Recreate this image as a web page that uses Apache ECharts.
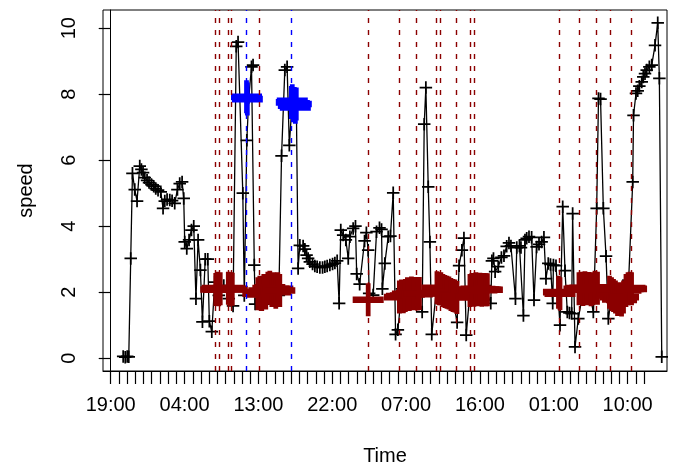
<!DOCTYPE html>
<html>
<head>
<meta charset="utf-8">
<script src="https://cdn.jsdelivr.net/npm/echarts@6/dist/echarts.min.js"></script>
<style>
html,body{margin:0;padding:0;background:#fff;}
#chart{width:675px;height:466px;}
</style>
</head>
<body>
<div id="chart"></div>
<script>
// x values are hours after 19:00 on the first day
const tickLabels = ['19:00','04:00','13:00','22:00','07:00','16:00','01:00','10:00'];
const tickLabelHours = [0, 9, 18, 27, 36, 45, 54, 63];
const lastTickHour = 65;

const speedTime = [1.52,1.77,2.01,2.20,2.44,2.65,2.93,3.21,3.54,3.74,3.94,4.15,4.43,4.67,4.96,5.24,5.49,5.77,6.10,6.38,6.59,6.87,7.20,7.48,7.80,8.13,8.41,8.70,8.90,9.02,9.27,9.55,9.84,10.12,10.39,10.65,10.93,11.18,11.52,11.83,12.02,12.32,12.68,13.17,13.78,14.39,14.91,15.30,15.52,16.10,16.28,16.59,16.83,17.16,17.35,17.50,17.60,18.05,18.66,19.27,19.88,20.49,20.82,21.22,21.50,21.77,22.07,22.38,22.62,22.84,23.05,23.45,23.66,23.87,24.06,24.27,24.60,24.88,25.16,25.49,25.82,26.10,26.38,26.71,27.04,27.32,27.60,27.84,28.04,28.33,28.66,28.95,29.15,29.55,29.83,29.98,30.34,30.94,31.16,31.38,31.50,31.99,32.40,32.76,33.01,33.11,33.41,33.82,34.09,34.43,34.72,35.00,35.49,36.10,36.71,37.32,37.96,38.21,38.41,38.70,38.90,39.13,39.63,40.24,40.85,41.46,42.22,42.46,42.80,43.05,43.33,43.78,44.39,45.00,45.61,46.32,46.46,46.65,46.85,47.23,47.62,47.93,48.26,48.54,48.78,49.33,49.49,49.82,50.00,50.30,50.49,50.70,50.98,51.30,51.59,51.91,52.20,52.52,52.80,53.05,53.33,53.60,53.87,53.96,54.27,54.76,55.09,55.37,55.65,55.91,56.18,56.30,56.59,56.99,57.56,58.17,58.82,59.23,59.45,59.70,60.04,60.37,60.65,61.22,61.83,62.44,63.05,63.62,63.72,64.02,64.23,64.43,64.72,64.91,65.12,65.33,65.65,65.94,66.34,66.67,66.87,67.16];
const speedValue = [0.05,0.03,0.05,0.04,3.02,5.60,5.11,4.76,5.82,5.72,5.62,5.47,5.39,5.32,5.26,5.21,5.14,5.09,5.04,4.54,4.76,4.81,4.79,4.77,4.69,5.11,5.29,5.34,4.84,3.52,3.32,3.58,3.88,4.00,1.80,3.58,2.67,1.10,3.00,3.00,1.12,0.80,2.30,1.90,2.20,1.80,1.58,9.45,9.58,5.00,1.90,6.60,7.90,8.83,8.88,2.82,1.64,2.00,2.30,1.80,2.10,1.90,6.13,8.73,8.83,6.45,7.60,7.70,7.80,2.72,3.42,3.40,3.30,3.12,3.02,2.92,2.85,2.79,2.77,2.75,2.75,2.77,2.79,2.82,2.85,2.88,2.95,1.66,3.88,3.73,3.58,3.02,3.68,3.93,4.00,2.55,2.24,3.55,3.80,3.27,1.96,1.91,3.83,3.95,3.90,2.10,2.87,3.68,3.70,5.01,0.72,0.86,2.10,1.80,2.20,1.90,1.40,7.09,8.20,5.19,3.52,0.72,1.90,2.20,1.80,2.10,1.08,2.80,3.27,3.64,0.70,2.00,2.30,1.90,2.20,1.66,2.95,3.02,2.62,2.77,3.05,3.10,3.39,3.49,3.40,1.80,3.35,3.40,3.35,1.29,3.58,3.63,3.68,3.66,1.76,3.37,3.45,3.52,3.66,2.41,2.87,2.84,1.66,2.82,2.80,1.00,4.59,2.65,1.40,1.37,1.35,4.38,0.34,1.20,2.00,2.20,1.40,4.54,7.87,7.85,4.54,3.09,1.20,2.10,1.80,2.20,1.90,5.34,7.36,8.02,8.10,8.24,8.37,8.52,8.62,8.73,8.83,8.88,9.48,10.16,8.48,0.04];

const redTime = [12.80,12.99,13.17,13.35,14.33,14.51,14.70,14.82,17.93,18.17,18.41,18.66,18.90,19.15,19.39,19.63,19.88,20.12,20.37,20.61,31.38,35.18,35.43,35.67,35.91,36.16,36.40,36.65,36.89,37.13,37.38,37.62,39.76,40.00,40.24,40.49,40.73,40.98,41.22,41.46,41.71,41.95,42.20,43.78,44.02,44.27,44.51,44.76,45.00,45.24,45.49,45.73,45.91,54.57,54.76,57.07,57.32,57.56,57.80,58.05,58.29,58.54,58.78,59.02,59.33,60.79,61.04,61.28,61.52,61.77,62.01,62.26,62.50,62.80,63.05,63.29,63.48];
const redValue = [2.08,2.12,2.07,2.10,2.12,2.08,2.10,2.09,1.95,2.00,1.93,2.05,1.97,2.12,2.15,2.05,2.10,2.00,2.10,2.05,1.77,1.85,1.88,1.86,1.90,1.95,1.93,1.97,1.95,1.96,1.94,1.96,2.13,2.10,2.10,2.05,2.02,2.00,1.97,1.93,1.90,1.88,1.84,2.05,2.08,2.06,2.10,2.07,2.09,2.06,2.08,2.07,2.07,2.00,1.95,2.10,2.12,2.08,2.13,2.10,2.11,2.07,2.10,2.15,2.12,2.00,1.95,1.90,1.85,1.78,1.80,1.76,1.85,2.05,2.10,2.12,2.10];

const blueTime = [16.55,16.65,22.01,22.13,22.26,22.38,22.50,22.62];
const blueValue = [7.92,7.85,7.75,7.80,7.65,7.72,7.60,7.70];

const redLineTime = [12.77,13.17,14.30,14.72,18.05,31.38,35.16,37.20,39.72,40.12,42.07,43.87,44.30,54.63,57.11,59.15,60.85,63.41];
const blueLineTime = [16.55,22.04];

const pair = (xs, ys) => xs.map((x, i) => [x, ys[i]]);
const thinPlus = 'path://M12.9,0H17.1V12.9H30V17.1H17.1V30H12.9V17.1H0V12.9H12.9Z';
const thickPlus = 'path://M12.7,0H17.3V12H30V18H17.3V30H12.7V18H0V12H12.7Z';
const FONT = 'Liberation Sans, Arial, Helvetica, sans-serif';

const hourTicks = [];
for (let h = 0; h <= lastTickHour; h++) hourTicks.push(h);

const chart = echarts.init(document.getElementById('chart'), null, {renderer: 'canvas'});
chart.setOption({
  animation: false,
  backgroundColor: '#ffffff',
  grid: {left: 103, right: 8, top: 10, bottom: 95, outerBoundsMode: 'none', containLabel: false,
    show: true, borderColor: '#000', borderWidth: 1, backgroundColor: 'transparent'},
  xAxis: {
    type: 'value', min: -0.94, max: 67.8,
    name: 'Time', nameLocation: 'middle', nameGap: 75,
    nameTextStyle: {fontFamily: FONT, fontSize: 20, color: '#000'},
    axisLine: {show: true, onZero: false, lineStyle: {color: '#000', width: 1}},
    axisTick: {show: true, customValues: hourTicks, length: 13, lineStyle: {color: '#000', width: 1.2}},
    axisLabel: {show: true, customValues: tickLabelHours, margin: 24, fontFamily: FONT, fontSize: 20, color: '#000',
      formatter: v => { const i = tickLabelHours.indexOf(Math.round(v)); return i >= 0 ? tickLabels[i] : ''; }},
    splitLine: {show: false}
  },
  yAxis: {
    type: 'value', min: -0.39, max: 10.55,
    name: 'speed', nameLocation: 'middle', nameGap: 67,
    nameTextStyle: {fontFamily: FONT, fontSize: 20, color: '#000'},
    axisLine: {show: true, lineStyle: {color: '#000', width: 1}},
    axisTick: {show: true, customValues: [0,2,4,6,8,10], length: 12, lineStyle: {color: '#000', width: 1.2}},
    axisLabel: {show: true, customValues: [0,2,4,6,8,10], rotate: 90, margin: 24, fontFamily: FONT, fontSize: 20, color: '#000'},
    splitLine: {show: false}
  },
  series: [
    {
      type: 'line', data: pair(speedTime, speedValue), z: 2,
      symbol: thinPlus, symbolSize: 12.5, showAllSymbol: true,
      itemStyle: {color: '#000'}, lineStyle: {color: '#000', width: 1.3},
      emphasis: {disabled: true}
    },
    {
      type: 'scatter', data: pair(redTime, redValue), z: 3,
      symbol: thickPlus, symbolSize: [31, 33], itemStyle: {color: '#8B0000', opacity: 1},
      emphasis: {disabled: true}
    },
    {
      type: 'scatter', data: pair(blueTime, blueValue), z: 4,
      symbol: thickPlus, symbolSize: [31, 33], itemStyle: {color: '#0000FF', opacity: 1},
      emphasis: {disabled: true}
    },
    {
      type: 'line', data: [], z: 5,
      markLine: {silent: true, symbol: 'none', label: {show: false},
        lineStyle: {color: '#8B0000', width: 1.4, type: [5, 7]},
        data: redLineTime.map(t => ({xAxis: t}))}
    },
    {
      type: 'line', data: [], z: 5,
      markLine: {silent: true, symbol: 'none', label: {show: false},
        lineStyle: {color: '#0000FF', width: 1.4, type: [5, 7]},
        data: blueLineTime.map(t => ({xAxis: t}))}
    }
  ]
});
</script>
</body>
</html>
